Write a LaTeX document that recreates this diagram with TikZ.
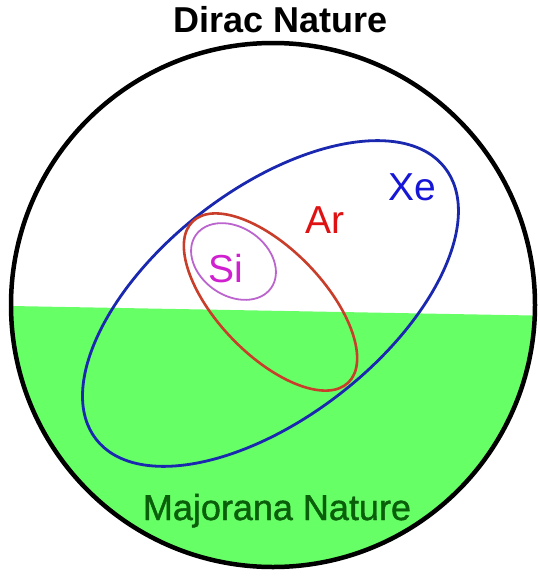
\documentclass[tikz,border=0pt]{standalone}
\usepackage{fontspec}
\setmainfont{Liberation Sans}
\definecolor{mgreen}{RGB}{102,255,102}
\definecolor{mtext}{RGB}{10,95,10}
\definecolor{xeline}{RGB}{26,40,176}
\definecolor{xetext}{RGB}{22,22,215}
\definecolor{arline}{RGB}{200,62,42}
\definecolor{artext}{RGB}{222,18,18}
\definecolor{siline}{RGB}{188,100,206}
\definecolor{sitext}{RGB}{208,32,208}
\begin{document}
\begin{tikzpicture}[x=1pt,y=-1pt,
  lbl/.style={anchor=base, inner sep=0pt, font=\fontsize{39}{44}\selectfont},
  big/.style={anchor=base, inner sep=0pt, font=\fontsize{36}{40}\selectfont}]
\useasboundingbox (0,0) rectangle (539,576);
\coordinate (C) at (273,305);
\begin{scope}
  \clip (C) circle[radius=262pt];
  \fill[mgreen] (0,305.8) -- (560,316) -- (560,600) -- (0,600) -- cycle;
\end{scope}
\draw[line width=4.5pt] (C) circle[radius=262pt];
% ellipses
\coordinate (xec) at (270.5,303.5);
\coordinate (arc) at (270.5,302);
\coordinate (sic) at (233.5,261.5);
\draw[xeline, line width=2.8pt, rotate around={37.9:(xec)}] (xec) ellipse[x radius=221pt, y radius=114pt];
\draw[arline, line width=2.6pt, rotate around={-46:(arc)}] (arc) ellipse[x radius=112pt, y radius=53pt];
\draw[siline, line width=1.8pt, rotate around={-35:(sic)}] (sic) ellipse[x radius=46pt, y radius=34pt];
% labels
\node[big, font=\fontsize{36}{40}\selectfont\bfseries] (dirac) at (281,32) {Dirac Nature};
\node[big, text=mtext, font=\fontsize{36}{40}\selectfont\addfontfeatures{FakeBold=1.2}] (maj) at (277,520) {Majorana Nature};
\node[lbl, text=xetext] (xe) at (412,200) {Xe};
\node[lbl, text=artext] (ar) at (325,233) {Ar};
\node[lbl, text=sitext] (si) at (226,282) {Si};
\end{tikzpicture}
\end{document}
